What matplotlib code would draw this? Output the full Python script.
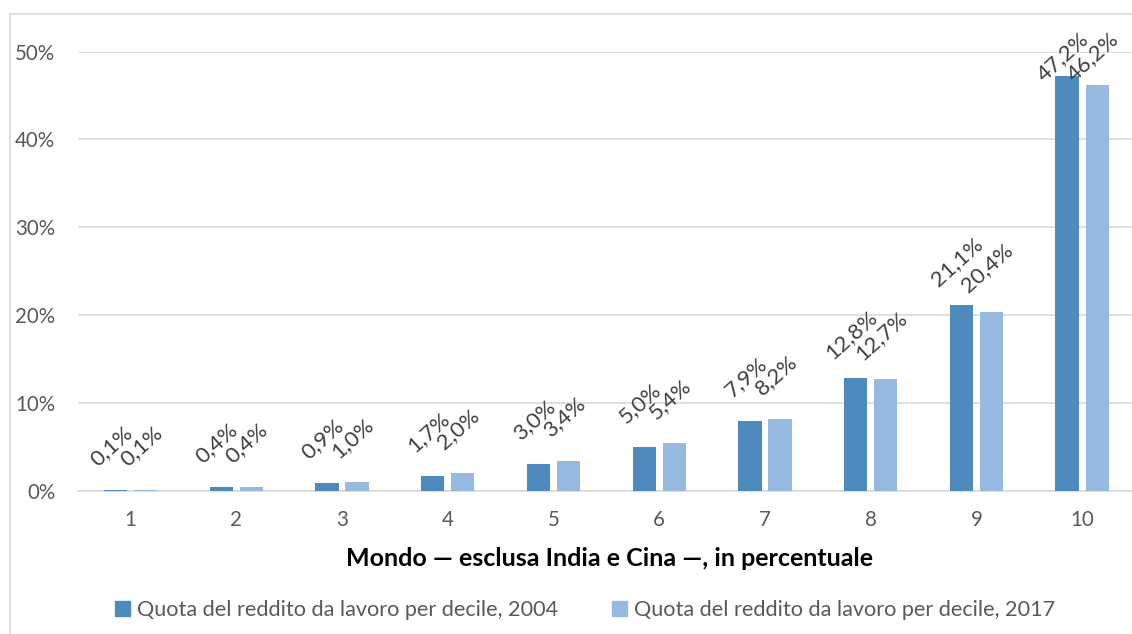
import matplotlib
matplotlib.use("Agg")
import matplotlib.pyplot as plt
import matplotlib.patches as mpatches
from matplotlib.ticker import FuncFormatter
import numpy as np

plt.rcParams['font.family'] = ['Lato', 'DejaVu Sans']

deciles = ["1", "2", "3", "4", "5", "6", "7", "8", "9", "10"]
share_2004 = [0.1, 0.4, 0.9, 1.7, 3.0, 5.0, 7.9, 12.8, 21.1, 47.2]
share_2017 = [0.1, 0.4, 1.0, 2.0, 3.4, 5.4, 8.2, 12.7, 20.4, 46.2]
series_labels = ["Quota del reddito da lavoro per decile, 2004",
                 "Quota del reddito da lavoro per decile, 2017"]
x_title = "Mondo \u2014 esclusa India e Cina \u2014, in percentuale"

dark = "#4f8abe"
light = "#96b9e0"
grid_col = "#d9d9d9"
text_col = "#595959"
label_col = "#404040"

fig = plt.figure(figsize=(11.32, 6.34), dpi=100)

# chart area frame (right and bottom edges fall outside the image)
frame = mpatches.Rectangle((10 / 1132, -0.1), 1.2, 0.9787 + 0.1,
                           transform=fig.transFigure, fill=False,
                           edgecolor=grid_col, lw=1.2, zorder=0)
fig.patches.append(frame)

ax = fig.add_axes([77.6 / 1132, 143.3 / 634, 1057.4 / 1132, 439.0 / 634])

x = np.arange(len(deciles))
w = 0.22
off = 0.142
ax.bar(x - off, share_2004, width=w, color=dark, zorder=3, label=series_labels[0])
ax.bar(x + off, share_2017, width=w, color=light, zorder=3, label=series_labels[1])

ax.set_xlim(-0.5, len(deciles) - 0.5)
ax.set_ylim(0, 50)
ax.set_yticks(np.arange(0, 51, 10))
ax.yaxis.set_major_formatter(FuncFormatter(lambda v, p: f"{v:.0f}%"))
ax.set_xticks(x)
ax.set_xticklabels(deciles)
ax.tick_params(axis='both', length=0, labelsize=14.8, colors=text_col)
ax.tick_params(axis='x', pad=14)
ax.tick_params(axis='y', pad=16)
ax.grid(axis='y', color=grid_col, lw=1.2, zorder=0)
for s in ["top", "right", "left"]:
    ax.spines[s].set_visible(False)
ax.spines["bottom"].set_color(grid_col)
ax.spines["bottom"].set_linewidth(1.2)

def fmt(v):
    return f"{v:.1f}%".replace(".", ",")

for vals, dx in ((share_2004, -off), (share_2017, off)):
    for i, v in enumerate(vals):
        yc = min(v + 5.0, 49.4)
        ax.text(i + dx - 0.04, yc, fmt(v), rotation=42, ha='center', va='center',
                rotation_mode='anchor', fontsize=16, color=label_col,
                zorder=5, clip_on=False)

fig.text(609 / 1132, 1 - 558 / 634, x_title, ha='center', va='center',
         fontsize=18, fontweight='bold', color='black')

handles = [mpatches.Patch(color=dark), mpatches.Patch(color=light)]
fig.legend(handles, series_labels, loc='center', bbox_to_anchor=(585 / 1132, 1 - 610 / 634),
           ncol=2, frameon=False, fontsize=15.6, handlelength=0.7, handleheight=0.7,
           handletextpad=0.3, columnspacing=2.5, labelcolor=text_col)

fig.savefig("out.png", dpi=100)
